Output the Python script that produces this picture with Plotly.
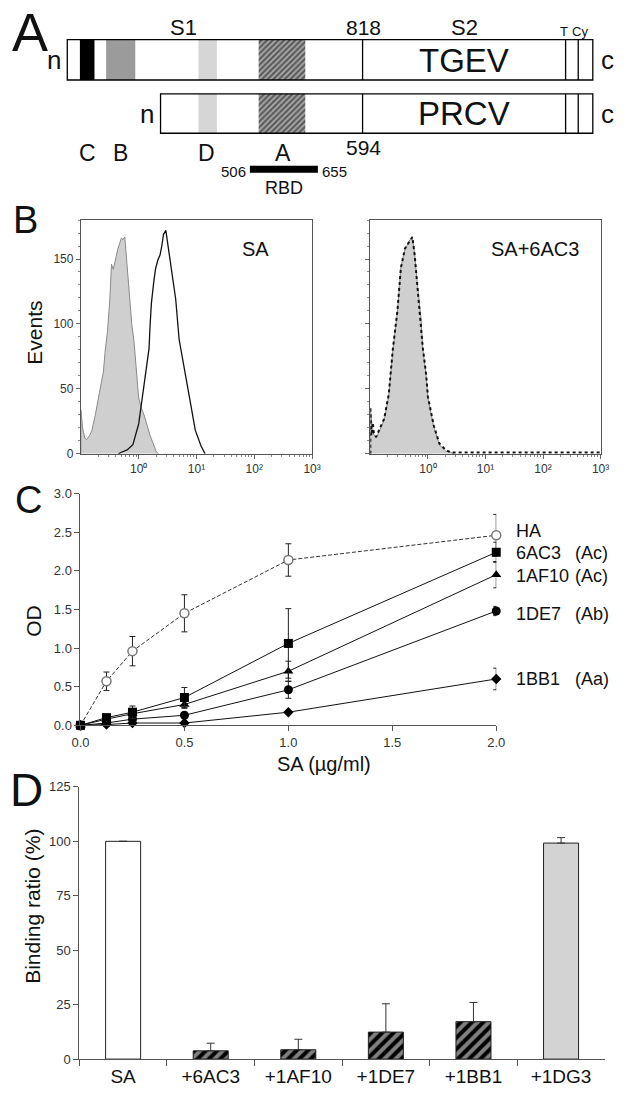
import plotly.graph_objects as go

W, H = 629, 1096
FONT = "Liberation Sans, Arial, sans-serif"

# ---------------- panel A : S protein schematic (schematic units) ----------------
row_names = ["TGEV", "PRCV"]
row_left = [60, 156]
row_right = [601, 601]
row_top = [33, 88]
row_bottom = [74, 128]
s1s2_x = 364
tm_lines = [573, 586]

band_row = [0, 0, 0, 0, 1, 1]
band_start = [73, 100, 195, 257, 195, 257]
band_end = [88, 130, 214, 305, 214, 305]
band_colors = ["black", "#9b9b9b", "#d6d6d6", "#5a5a5a", "#d6d6d6", "#5a5a5a"]
band_pattern = ["", "", "", "/", "", "/"]
rbd_start, rbd_end = 248, 318

# ---------------- panel B : flow cytometry histograms ----------------
ctrl_sa_x = [0.100, 0.100, 0.107, 0.117, 0.126, 0.141, 0.155, 0.178, 0.209, 0.245, 0.263,
             0.288, 0.316, 0.339, 0.363, 0.389, 0.437, 0.501, 0.537, 0.575, 0.631, 0.692,
             0.759, 0.832, 0.912, 1.00, 1.12, 1.26, 1.58, 2.00, 2.19]
ctrl_sa_y = [0, 34, 20, 12, 11, 14, 18, 30, 47, 63, 79, 94, 118, 146, 142, 148, 158, 166,
             165, 167, 145, 119, 100, 86, 65, 43, 35, 29, 14, 2, 0]
sa_x = [0.447, 0.490, 0.631, 0.794, 1.00, 1.26, 1.41, 1.51, 1.58, 1.66, 1.82, 1.95, 2.14,
        2.34, 2.51, 2.69, 2.95, 3.16, 3.72, 4.37, 5.01, 5.37, 6.03, 7.59, 9.55, 12.0, 14.1]
sa_y = [0, 1, 3, 7, 23, 56, 72, 81, 100, 116, 132, 142, 149, 153, 160, 169, 172, 163, 142,
        119, 88, 80, 69, 43, 18, 6, 0]

ctrl_6ac3_x = [0.100, 0.100, 0.107, 0.115, 0.126, 0.141, 0.174, 0.209, 0.245, 0.295, 0.339,
               0.398, 0.490, 0.537, 0.589, 0.661, 0.759, 0.813, 0.933, 1.00, 1.26, 1.58,
               2.04, 2.51, 2.88]
ctrl_6ac3_y = [0, 35, 22, 15, 12, 17, 26, 45, 79, 109, 144, 157, 165, 166, 154, 129, 104, 81,
               60, 43, 21, 7, 2, 1, 0]
sa_6ac3_x = [0.100, 0.100, 0.104, 0.110, 0.115, 0.126, 0.141, 0.174, 0.209, 0.245, 0.295,
             0.339, 0.398, 0.490, 0.537, 0.589, 0.661, 0.759, 0.813, 0.933, 1.00, 1.26,
             1.58, 2.04, 2.51, 3.98, 10.0, 100, 1000]
sa_6ac3_y = [0, 36, 14, 24, 16, 13, 18, 27, 46, 80, 110, 143, 158, 164, 167, 153, 128, 103,
             82, 61, 44, 22, 8, 3, 1, 1, 1, 1, 1]
b_tick_vals = [1, 10, 100, 1000]
b_tick_text = ["10\u2070", "10\u00b9", "10\u00b2", "10\u00b3"]

# ---------------- panel C : ELISA ----------------
sa_conc = [0, 0.125, 0.25, 0.5, 1.0, 2.0]
elisa_names = ["HA", "6AC3", "1AF10", "1DE7", "1BB1"]
elisa_groups = ["", "(Ac)", "(Ac)", "(Ab)", "(Aa)"]
od_ha = [0, 0.57, 0.96, 1.45, 2.14, 2.46]
od_6ac3 = [0, 0.10, 0.17, 0.36, 1.06, 2.24]
od_1af10 = [0, 0.08, 0.15, 0.27, 0.70, 1.95]
od_1de7 = [0, 0.03, 0.08, 0.13, 0.46, 1.48]
od_1bb1 = [0, 0.01, 0.03, 0.03, 0.17, 0.60]
err_ha = [0, 0.12, 0.19, 0.24, 0.21, 0.27]
err_6ac3 = [0, 0.02, 0.08, 0.13, 0.45, 0.13]
err_1af10 = [0, 0.02, 0.03, 0.05, 0.13, 0.17]
err_1de7 = [0, 0.01, 0.02, 0.03, 0.11, 0.06]
err_1bb1 = [0, 0.0, 0.01, 0.02, 0.02, 0.14]

# ---------------- panel D : binding competition ----------------
comp_labels = ["SA", "+6AC3", "+1AF10", "+1DE7", "+1BB1", "+1DG3"]
binding_ratio = [100, 3.8, 4.3, 12.4, 17.2, 99.2]
binding_err = [None, 3.5, 4.8, 13.0, 8.8, 2.5]


def dom_x(a, b):
    return [a / W, b / W]


def dom_y(top, bottom):
    return [1 - bottom / H, 1 - top / H]


fig = go.Figure()

# ---- A ----
row_mid = [(t + b) / 2 for t, b in zip(row_top, row_bottom)]
row_h = [b - t for t, b in zip(row_top, row_bottom)]
fig.add_trace(go.Bar(
    orientation="h",
    y=[row_mid[r] for r in band_row],
    base=band_start,
    x=[e - s for s, e in zip(band_start, band_end)],
    width=[row_h[r] for r in band_row],
    marker=dict(color=band_colors, line_width=0,
                pattern=dict(shape=band_pattern, bgcolor="white", size=4, solidity=0.45)),
    xaxis="x5", yaxis="y5", hoverinfo="skip",
))

shapes = []
for i in range(len(row_names)):
    shapes.append(dict(type="rect", xref="x5", yref="y5", x0=row_left[i], x1=row_right[i],
                       y0=row_top[i], y1=row_bottom[i], line=dict(color="black", width=1.3)))
    for xv in [s1s2_x] + tm_lines:
        shapes.append(dict(type="line", xref="x5", yref="y5", x0=xv, x1=xv,
                           y0=row_top[i], y1=row_bottom[i], line=dict(color="black", width=1.3)))
shapes.append(dict(type="rect", xref="x5", yref="y5", x0=rbd_start, x1=rbd_end, y0=161, y1=168,
                   fillcolor="black", line_width=0))

# ---- B ----
fig.add_trace(go.Scatter(x=ctrl_sa_x, y=ctrl_sa_y, mode="lines", fill="tozeroy",
                         fillcolor="#cfcfcf", line=dict(color="#8a8a8a", width=1),
                         xaxis="x", yaxis="y"))
fig.add_trace(go.Scatter(x=sa_x, y=sa_y, mode="lines", line=dict(color="#111", width=1.3),
                         xaxis="x", yaxis="y"))
fig.add_trace(go.Scatter(x=ctrl_6ac3_x, y=ctrl_6ac3_y, mode="lines", fill="tozeroy",
                         fillcolor="#cfcfcf", line=dict(color="#8a8a8a", width=1),
                         xaxis="x2", yaxis="y2"))
fig.add_trace(go.Scatter(x=sa_6ac3_x, y=sa_6ac3_y, mode="lines",
                         line=dict(color="#111", width=2, dash="dot"),
                         xaxis="x2", yaxis="y2"))

# ---- C ----
fig.add_trace(go.Scatter(
    x=sa_conc, y=od_ha, mode="lines+markers", cliponaxis=False,
    line=dict(color="#333", width=1, dash="4px,2px"),
    marker=dict(symbol="circle", size=9, color="white", line=dict(color="#777", width=1.5)),
    error_y=dict(type="data", array=err_ha, color="#222", thickness=1, width=3),
    xaxis="x3", yaxis="y3"))
c_series = [
    (od_1bb1, err_1bb1, "diamond", 8),
    (od_1de7, err_1de7, "circle", 9),
    (od_1af10, err_1af10, "triangle-up", 9),
    (od_6ac3, err_6ac3, "square", 9),
]
for vals, errs, sym, sz in c_series:
    fig.add_trace(go.Scatter(
        x=sa_conc, y=vals, mode="lines+markers", cliponaxis=False,
        line=dict(color="#111", width=1),
        marker=dict(symbol=sym, size=sz, color="black"),
        error_y=dict(type="data", array=errs, color="#222", thickness=1, width=3),
        xaxis="x3", yaxis="y3"))

# ---- D ----
fig.add_trace(go.Bar(
    x=comp_labels, y=binding_ratio, width=0.4,
    marker=dict(color=["white", "black", "black", "black", "black", "#d3d3d3"],
                line=dict(color="#222", width=1),
                pattern=dict(shape=["", "/", "/", "/", "/", ""], bgcolor="white",
                             size=8, solidity=0.5)),
    error_y=dict(type="data", symmetric=False, array=binding_err,
                 arrayminus=[0] * len(binding_err), color="#333", thickness=1, width=4),
    xaxis="x4", yaxis="y4"))

# ---- axes ----
tick_font = dict(family=FONT, size=12, color="#333")
b_minor = [m * 10 ** e for e in (-1, 0, 1, 2) for m in range(2, 10)]
b_x = dict(type="log", range=[-1.0, 3.0], tickvals=b_tick_vals, ticktext=b_tick_text,
           ticks="outside", ticklen=4, tickcolor="#666", showline=True, linecolor="#555",
           mirror=True, showgrid=False, zeroline=False, tickfont=tick_font,
           minor=dict(tickvals=b_minor, ticks="outside", ticklen=2, tickcolor="#888"))
b_y = dict(range=[0, 180], tickvals=[0, 50, 100, 150], ticks="outside", ticklen=4,
           tickcolor="#666", showline=True, linecolor="#555", mirror=True, showgrid=False,
           zeroline=False, tickfont=tick_font,
           minor=dict(dtick=10, ticks="outside", ticklen=2, tickcolor="#888"))

fig.update_layout(
    width=W, height=H, margin=dict(l=0, r=0, t=0, b=0),
    paper_bgcolor="white", plot_bgcolor="white", showlegend=False, barmode="overlay",
    font=dict(family=FONT, color="#111"),
    xaxis=dict(b_x, domain=dom_x(74, 312), anchor="y"),
    yaxis=dict(b_y, domain=dom_y(216, 453), anchor="x"),
    xaxis2=dict(b_x, domain=dom_x(372, 609), anchor="y2"),
    yaxis2=dict(b_y, domain=dom_y(216, 453), anchor="x2", showticklabels=False),
    xaxis3=dict(domain=dom_x(73.6, 501.6), anchor="y3", range=[0, 2],
                tickvals=[0, 0.5, 1, 1.5, 2], tickformat=".1f", ticks="outside", ticklen=5,
                tickcolor="#555", showline=True, linecolor="#555", showgrid=False,
                zeroline=False, tickfont=dict(family=FONT, size=13, color="#333")),
    yaxis3=dict(domain=dom_y(493.3, 728.3), anchor="x3", range=[0, 3], dtick=0.5,
                tickformat=".1f", ticks="outside", ticklen=5, tickcolor="#555",
                showline=True, linecolor="#555", showgrid=False, zeroline=False,
                tickfont=dict(family=FONT, size=13, color="#333")),
    xaxis4=dict(domain=dom_x(72.4, 613.4), anchor="y4", type="category",
                tickson="boundaries", ticks="outside", ticklen=6, tickcolor="#555",
                showline=True, linecolor="#555", showgrid=False,
                tickfont=dict(family=FONT, size=19, color="#111")),
    yaxis4=dict(domain=dom_y(790.7, 1066.7), anchor="x4", range=[0, 125], dtick=25,
                ticks="outside", ticklen=5, tickcolor="#555", showline=True,
                linecolor="#555", showgrid=False, zeroline=False,
                tickfont=dict(family=FONT, size=13, color="#333")),
    xaxis5=dict(domain=[0, 1], anchor="y5", range=[0, W], visible=False),
    yaxis5=dict(domain=dom_y(0, 195), anchor="x5", range=[195, 0], visible=False),
    shapes=shapes,
)

ann = []


def txt(x, y, s, size, ref="paper", angle=0, xanchor="center", color="#111"):
    if ref == "paper":
        ann.append(dict(x=x / W, y=1 - y / H, xref="paper", yref="paper", text=s,
                        showarrow=False, textangle=angle, xanchor=xanchor, yanchor="middle",
                        font=dict(family=FONT, size=size, color=color)))
    else:
        ann.append(dict(x=x, y=y, xref="x5", yref="y5", text=s, showarrow=False,
                        xanchor=xanchor, yanchor="middle",
                        font=dict(family=FONT, size=size, color=color)))


# panel letters
txt(22, 25, "A", 54)
txt(17, 216, "B", 38)
txt(20, 500, "C", 38)
txt(18, 794, "D", 46)

# panel A texts
txt(180, 21, "S1", 22, ref="a")
txt(365, 21, "818", 21, ref="a")
txt(469, 21, "S2", 22, ref="a")
txt(571, 25, "T", 13, ref="a")
txt(588, 25, "Cy", 13, ref="a")
txt(46, 54, "n", 26, ref="a")
txt(616, 54, "c", 26, ref="a")
txt(468, 54, row_names[0], 33, ref="a")
txt(142, 108, "n", 26, ref="a")
txt(616, 108, "c", 26, ref="a")
txt(468, 108, row_names[1], 33, ref="a")
txt(81, 148, "C", 23, ref="a")
txt(115, 148, "B", 23, ref="a")
txt(203, 148, "D", 23, ref="a")
txt(282, 148, "A", 23, ref="a")
txt(365, 142, "594", 21, ref="a")
txt(rbd_start - 2, 167, "506", 15, ref="a", xanchor="right")
txt(rbd_end + 2, 167, "655", 15, ref="a", xanchor="left")
txt(283, 184, "RBD", 18, ref="a")

# panel B texts
txt(26, 330, "Events", 21, angle=-90)
txt(254, 245, "SA", 20)
txt(541, 245, "SA+6AC3", 20)

# panel C texts
txt(25, 622, "OD", 21, angle=-90)
txt(324, 767, "SA (\u00b5g/ml)", 20)
c_label_y = [531.7, 553.3, 576.5, 615, 681.7]
for name, grp, yy in zip(elisa_names, elisa_groups, c_label_y):
    txt(520, yy, name, 18, xanchor="left")
    if grp:
        txt(581, yy, grp, 18, xanchor="left")

# panel D texts
txt(24, 912, "Binding ratio (%)", 21, angle=-90)

fig.update_layout(annotations=ann)
fig.write_html("out.html", config={"displayModeBar": False},
               post_script="document.body.style.margin='0';")
